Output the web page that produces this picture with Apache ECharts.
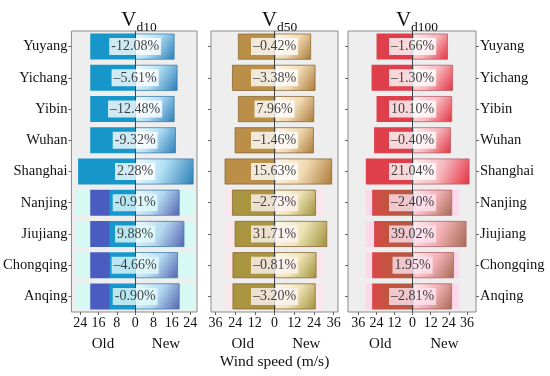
<!DOCTYPE html>
<html><head><meta charset="utf-8">
<script src="https://cdn.jsdelivr.net/npm/echarts@6/dist/echarts.min.js"></script>
<style>html,body{margin:0;padding:0;background:#fff}#c{width:550px;height:376px}</style>
</head><body><div id="c"></div>
<script>
// ---- data ----
const cities = ['Yuyang','Yichang','Yibin','Wuhan','Shanghai','Nanjing','Jiujiang','Chongqing','Anqing'];
const panelNames = ['d10','d50','d100'];

const oldD10 = [19.6, 19.6, 19.6, 19.6, 24.9, 19.6, 19.6, 19.6, 19.6];
const newD10 = [17.2, 18.5, 17.2, 17.8, 25.5, 19.4, 21.5, 18.7, 19.4];
const pctD10 = ['-12.08%','\u20135.61%','\u201312.48%','-9.32%','2.28%','-0.91%','9.88%','\u20134.66%','-0.90%'];

const oldD50 = [22.3, 25.9, 22.3, 24.3, 30.4, 25.9, 24.3, 25.6, 25.6];
const newD50 = [22.2, 24.9, 24.1, 23.9, 35.0, 25.2, 32.0, 25.5, 25.0];
const pctD50 = ['\u20130.42%','\u20133.38%','7.96%','\u20131.46%','15.63%','\u20132.73%','31.71%','\u20130.81%','\u20133.20%'];

const oldD100 = [23.9, 27.2, 23.9, 25.5, 31.0, 26.8, 25.5, 26.8, 26.8];
const newD100 = [23.4, 26.8, 26.2, 25.4, 37.7, 26.2, 35.7, 27.4, 26.1];
const pctD100 = ['\u20131.66%','\u20131.30%','10.10%','\u20130.40%','21.04%','\u20132.40%','39.02%','1.95%','\u20132.81%'];

// faint tinted bands behind the lower rows
const bandD10 = [0, 0, 0, 0, 0, 26, 26, 26, 26];
const bandD50 = [0, 0, 0, 0, 0, 30, 30, 30, 30];
const bandD100 = [0, 0, 0, 0, 0, 31, 31, 31, 31];

const ticksD10 = [-24, -16, -8, 0, 8, 16, 24];
const ticksD50 = [-36, -24, -12, 0, 12, 24, 36];
const ticksD100 = [-36, -24, -12, 0, 12, 24, 36];

const rangeD10 = [-27.8, 27];
const rangeD50 = [-38.7, 38.6];
const rangeD100 = [-42.8, 42.0];

// ---- styles ----
const FONT = "'Liberation Serif','Times New Roman',serif";
const grids = [
  {left: 71, top: 31, width: 126, height: 281},
  {left: 211, top: 31, width: 127, height: 281},
  {left: 348, top: 31, width: 128, height: 281}
];
const grad = (stops, x2, y2) => ({type: 'linear', x: 0, y: 0, x2: x2, y2: y2,
  colorStops: stops.map(s => ({offset: s[0], color: s[1]}))});

const panels = [
  {old: oldD10, nw: newD10, pct: pctD10, band: bandD10, ticks: ticksD10, range: rangeD10,
   bandColor: '#d6faf3', labTint: '#e2fbfa',
   oldColor: i => i < 5 ? '#1796c9' : grad([[0,'#4a5cbf'],[0.42,'#4a5cbf'],[0.44,'#1797cc'],[1,'#1797cc']], 1, 0),
   newColor: i => i < 5 ? grad([[0,'#f4fcff'],[0.45,'#b4e1f5'],[1,'#2a7db6']], 1, 1)
                        : grad([[0,'#f0fbff'],[0.5,'#b4d9f0'],[1,'#5462b0']], 1, 1),
   border: '#3f7fae'},
  {old: oldD50, nw: newD50, pct: pctD50, band: bandD50, ticks: ticksD50, range: rangeD50,
   bandColor: '#fbe6ec', labTint: '#fdf2f4',
   oldColor: i => i < 5 ? '#bb8f48' : '#a9943f',
   newColor: i => i < 5 ? grad([[0,'#fff9ef'],[0.5,'#f0d9b2'],[1,'#ab7a38']], 1, 1)
                        : grad([[0,'#fffbef'],[0.5,'#ede3b5'],[1,'#a0903a']], 1, 1),
   border: '#8a6a36'},
  {old: oldD100, nw: newD100, pct: pctD100, band: bandD100, ticks: ticksD100, range: rangeD100,
   bandColor: '#fcd9ea', labTint: '#fde4f0',
   oldColor: i => i < 5 ? '#df3e4b' : grad([[0,'#d9484a'],[0.35,'#c4533f'],[1,'#b45a45']], 1, 0),
   newColor: i => i < 5 ? grad([[0,'#fff1f3'],[0.5,'#f7b7bd'],[1,'#e2303e']], 1, 1)
                        : grad([[0,'#fff1f4'],[0.5,'#f3b0b5'],[1,'#a36a50']], 1, 1),
   border: '#b86068'}
];

const xAxis = [], yAxis = [], series = [], title = [], graphic = [];
panels.forEach((p, k) => {
  const g = grids[k];
  xAxis.push({
    gridIndex: k, type: 'value', min: p.range[0], max: p.range[1],
    axisLine: {show: false}, splitLine: {show: false},
    axisTick: {show: true, length: 3, customValues: p.ticks, lineStyle: {color: '#666'}},
    axisLabel: {customValues: p.ticks, formatter: v => String(Math.abs(v)), fontSize: 14,
      margin: 4, color: '#111', fontFamily: FONT}
  });
  yAxis.push({
    gridIndex: k, type: 'category', data: cities, inverse: true,
    axisLine: {show: false, onZero: false}, splitLine: {show: false},
    axisTick: {show: true, length: 3, alignWithLabel: true, lineStyle: {color: '#666'}},
    axisLabel: {show: k === 0, fontSize: 14.5, color: '#111', fontFamily: FONT, margin: 4}
  });
  const common = {xAxisIndex: k, yAxisIndex: k, barWidth: 26, barGap: '-100%', silent: true};
  series.push(Object.assign({}, common, {
    type: 'bar', name: 'bandL' + k, data: p.band.map(v => -v),
    itemStyle: {color: p.bandColor}
  }));
  series.push(Object.assign({}, common, {
    type: 'bar', name: 'bandR' + k, data: p.band,
    itemStyle: {color: p.bandColor}
  }));
  series.push(Object.assign({}, common, {
    type: 'bar', name: 'Old' + k,
    data: p.old.map((v, i) => ({value: -v, itemStyle: {color: p.oldColor(i)}})),
    itemStyle: {borderColor: p.border, borderWidth: k === 1 ? 0.8 : 0}
  }));
  series.push(Object.assign({}, common, {
    type: 'bar', name: 'New' + k,
    data: p.nw.map((v, i) => ({value: v, itemStyle: {color: p.newColor(i)}})),
    itemStyle: {borderColor: p.border, borderWidth: 0.8},
    markLine: {silent: true, symbol: 'none', label: {show: false}, z: 3,
      lineStyle: {color: '#444', width: 1, type: 'solid'}, data: [{xAxis: 0}]}
  }));
  series.push({
    type: 'scatter', xAxisIndex: k, yAxisIndex: k, zlevel: 2, z: 20, silent: true,
    symbolSize: 1, itemStyle: {color: 'rgba(0,0,0,0)'},
    data: cities.map((c, i) => ({value: [0, c],
      label: {backgroundColor: i < 5 ? '#ffffff' : p.labTint}})),
    label: {show: true, position: 'inside', formatter: q => p.pct[q.dataIndex],
      fontSize: 14, fontFamily: FONT, color: '#111', padding: [1, 2, 0, 2], lineHeight: 16}
  });
  const cx = g.left + g.width / 2;
  title.push({
    text: '{v|V}{s|' + panelNames[k] + '}', left: cx, top: 5, textAlign: 'center',
    textStyle: {fontWeight: 'normal', rich: {
      v: {fontSize: 21, fontFamily: FONT, fontWeight: 'normal', color: '#111', verticalAlign: 'bottom', padding: [0, 0, 3, 0]},
      s: {fontSize: 13.5, fontFamily: FONT, fontWeight: 'normal', color: '#111', verticalAlign: 'bottom'}
    }}
  });
  // Old / New captions under each panel
  const zeroX = g.left + g.width * (-p.range[0]) / (p.range[1] - p.range[0]);
  graphic.push({type: 'text', x: (g.left + zeroX) / 2, y: 344,
    style: {text: 'Old', textAlign: 'center', textVerticalAlign: 'middle', fontSize: 15, fontFamily: FONT, fill: '#111'}});
  graphic.push({type: 'text', x: (zeroX + g.left + g.width) / 2, y: 344,
    style: {text: 'New', textAlign: 'center', textVerticalAlign: 'middle', fontSize: 15, fontFamily: FONT, fill: '#111'}});
});
// right-hand city labels for third panel
yAxis.push({
  gridIndex: 2, type: 'category', data: cities, inverse: true, position: 'right',
  axisLine: {show: false, onZero: false}, splitLine: {show: false},
  axisTick: {show: true, length: 3, alignWithLabel: true, lineStyle: {color: '#666'}},
  axisLabel: {show: true, fontSize: 14.5, color: '#111', fontFamily: FONT, margin: 4}
});
graphic.push({type: 'text', x: grids[1].left + grids[1].width / 2, y: 362,
  style: {text: 'Wind speed (m/s)', textAlign: 'center', textVerticalAlign: 'middle', fontSize: 15.5, fontFamily: FONT, fill: '#111'}});

const chart = echarts.init(document.getElementById('c'), null, {renderer: 'canvas'});
chart.setOption({
  animation: false,
  backgroundColor: '#ffffff',
  title: title,
  grid: grids.map(g => Object.assign({show: true, backgroundColor: '#eeeeee', borderColor: '#8c8c8c', borderWidth: 1}, g)),
  xAxis: xAxis,
  yAxis: yAxis,
  series: series,
  graphic: graphic
});
</script>
</body></html>
